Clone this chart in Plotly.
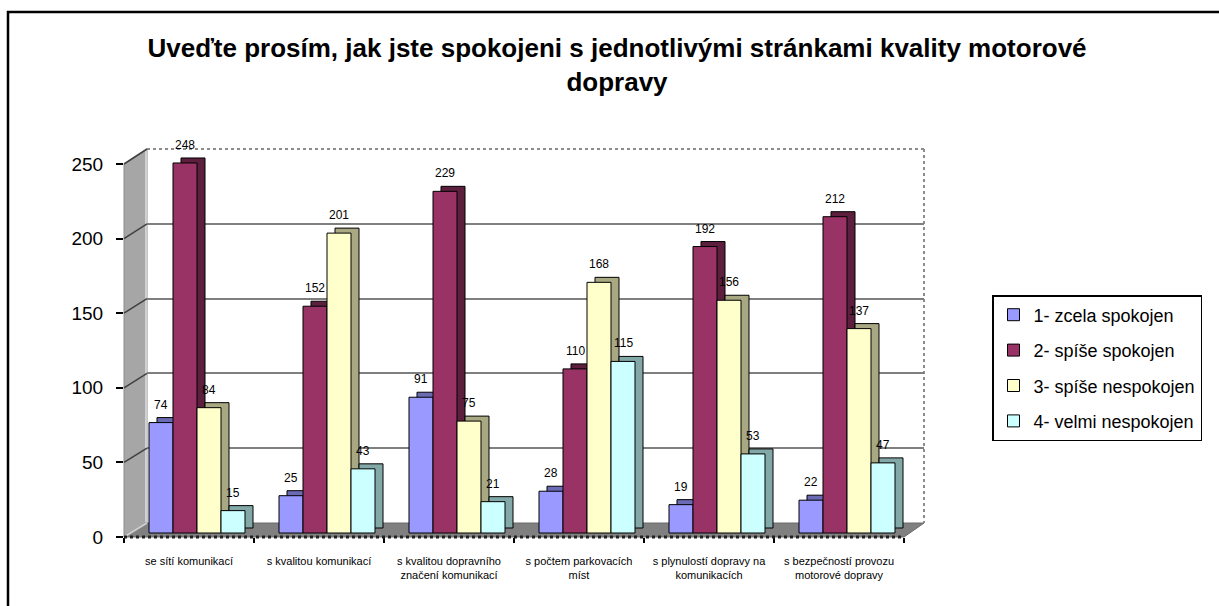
import plotly.graph_objects as go

categories = [
    "se sítí komunikací",
    "s kvalitou komunikací",
    "s kvalitou dopravního<br>značení komunikací",
    "s počtem parkovacích<br>míst",
    "s plynulostí dopravy na<br>komunikacích",
    "s bezpečností provozu<br>motorové dopravy",
]
series_names = ["1- zcela spokojen", "2- spíše spokojen", "3- spíše nespokojen", "4- velmi nespokojen"]
zcela_spokojen = [74, 25, 91, 28, 19, 22]
spise_spokojen = [248, 152, 229, 110, 192, 212]
spise_nespokojen = [84, 201, 75, 168, 156, 137]
velmi_nespokojen = [15, 43, 21, 115, 53, 47]
y_ticks = [0, 50, 100, 150, 200, 250]

series_values = [zcela_spokojen, spise_spokojen, spise_nespokojen, velmi_nespokojen]
front_colors = ["#9999FF", "#993366", "#FFFFCC", "#CCFFFF"]
side_colors = ["#6B6BB5", "#5C1F3D", "#A8A882", "#83A8A8"]

# ---- layout geometry (pixels) ----
W, H = 1219, 606
PL, PR, PT, PB = 124, 924, 149, 537
CAT_PX = 130.0
FRONT_PPU = 373 / 250.0   # front axis px per unit
BACK_PPU = 374 / 250.0    # back wall px per unit
DEPTH_X, DEPTH_Y = 23, 14  # wall depth
BAR_W = 24
BAR_LEFT0 = -40
SIDE_X, SIDE_Y = 8, 5
FONT = "Liberation Sans, Arial, sans-serif"


def px(x):
    return (x - PL) / (PR - PL)


def py(y):
    return (PB - y) / (PB - PT)


fig = go.Figure()

# 3D side/top faces (drawn first, behind the front faces)
for k, (name, vals) in enumerate(zip(series_names, series_values)):
    fig.add_trace(go.Bar(
        x=categories, y=vals,
        base=[SIDE_Y / FRONT_PPU] * len(vals),
        width=BAR_W / CAT_PX,
        offset=(BAR_LEFT0 + k * BAR_W + SIDE_X) / CAT_PX,
        marker=dict(color=side_colors[k], line=dict(color="black", width=1)),
        showlegend=False, hoverinfo="skip", yaxis="y",
    ))

# front faces
for k, (name, vals) in enumerate(zip(series_names, series_values)):
    fig.add_trace(go.Bar(
        x=categories, y=vals, name=name,
        width=BAR_W / CAT_PX,
        offset=(BAR_LEFT0 + k * BAR_W) / CAT_PX,
        marker=dict(color=front_colors[k], line=dict(color="black", width=1)),
        legendgroup=name, yaxis="y",
    ))

# helpers so the overlay axes are drawn
fig.add_trace(go.Scatter(x=[categories[0]], y=[0], yaxis="y2", mode="markers",
                         marker=dict(opacity=0), showlegend=False, hoverinfo="skip"))
fig.add_trace(go.Scatter(x=[categories[0]], y=[0], yaxis="y3", mode="markers",
                         marker=dict(opacity=0), showlegend=False, hoverinfo="skip"))

# data labels
annotations = []
for k, vals in enumerate(series_values):
    for i, v in enumerate(vals):
        annotations.append(dict(
            x=i + (BAR_LEFT0 + k * BAR_W + BAR_W / 2) / CAT_PX, y=v,
            xref="x", yref="y", text=str(v), showarrow=False, yshift=18,
            font=dict(size=12, color="black", family=FONT),
        ))

shapes = []
# outer border
shapes.append(dict(type="rect", xref="paper", yref="paper",
                   x0=px(8), x1=px(1250), y0=py(12), y1=py(640),
                   line=dict(color="black", width=2.5), fillcolor="rgba(0,0,0,0)", layer="below"))
# floor
shapes.append(dict(type="path", xref="paper", yref="paper",
                   path=f"M {px(PL)},{py(PB)} L {px(PL+DEPTH_X)},{py(PB-DEPTH_Y)} L {px(PR)},{py(PB-DEPTH_Y)} "
                        f"L {px(PL+6*CAT_PX)},{py(PB)} Z",
                   fillcolor="#808080", line=dict(color="#6a6a6a", width=1), layer="below"))
# back wall top and right dotted edges
shapes.append(dict(type="line", xref="paper", yref="paper",
                   x0=px(PL+DEPTH_X), x1=px(PR), y0=py(PT), y1=py(PT),
                   line=dict(color="#8c8c8c", width=2, dash="dot"), layer="below"))
shapes.append(dict(type="line", xref="paper", yref="paper",
                   x0=px(PR), x1=px(PR), y0=py(PT), y1=py(PB-DEPTH_Y),
                   line=dict(color="#8c8c8c", width=2, dash="dot"), layer="below"))
# left wall
shapes.append(dict(type="path", xref="paper", yref="paper",
                   path=f"M {px(PL)},{py(PB)} L {px(PL+DEPTH_X)},{py(PB-DEPTH_Y)} "
                        f"L {px(PL+DEPTH_X)},{py(PT)} L {px(PL)},{py(PB-250*FRONT_PPU)} Z",
                   fillcolor="#a6a6a6", line=dict(color="#8c8c8c", width=1), layer="above"))
shapes.append(dict(type="line", xref="paper", yref="paper",
                   x0=px(PL+DEPTH_X-1), x1=px(PL+DEPTH_X-1), y0=py(PT+1), y1=py(PB-DEPTH_Y-1),
                   line=dict(color="#e0e0e0", width=1.5), layer="above"))
for v in y_ticks:
    shapes.append(dict(type="line", xref="paper", yref="paper",
                       x0=px(PL), y0=py(PB - v * FRONT_PPU),
                       x1=px(PL + DEPTH_X), y1=py(PB - DEPTH_Y - v * BACK_PPU),
                       line=dict(color="#d0d0d0" if v == 0 else "#404040", width=1.5), layer="above"))
# dotted front x axis
shapes.append(dict(type="line", xref="x", yref="paper", x0=-0.5, x1=5.5, y0=0, y1=0,
                   line=dict(color="#222222", width=3, dash="dot"), layer="above"))

fig.update_layout(
    width=W, height=H,
    margin=dict(l=PL, r=W - PR, t=PT, b=H - PB, pad=0),
    paper_bgcolor="white", plot_bgcolor="white",
    barmode="overlay",
    font=dict(family=FONT, color="black"),
    title=dict(
        text="<b>Uveďte prosím, jak jste spokojeni s jednotlivými stránkami kvality motorové<br>dopravy</b>",
        x=617 / W, xanchor="center", xref="container",
        y=1 - 57 / H, yanchor="top", yref="container",
        font=dict(size=26, family=FONT, color="black"),
    ),
    xaxis=dict(
        type="category", range=[-0.5, -0.5 + (PR - PL) / CAT_PX],
        showgrid=False, zeroline=False, showline=False,
        ticks="outside", tickson="boundaries", ticklen=5, tickwidth=2, tickcolor="black",
        tickfont=dict(size=11, family=FONT, color="black"),
        ticklabelstandoff=16, automargin=False,
    ),
    yaxis=dict(
        range=[-4 / FRONT_PPU, (PB - 4 - PT) / FRONT_PPU],
        showgrid=False, zeroline=False, showticklabels=False, ticks="", showline=False,
        automargin=False,
    ),
    yaxis2=dict(
        overlaying="y", anchor="x", side="left",
        range=[-DEPTH_Y / BACK_PPU, 250],
        tickvals=[50, 100, 150, 200], showgrid=True, gridcolor="#7f7f7f", gridwidth=2,
        zeroline=False, showticklabels=False, ticks="", showline=False, automargin=False,
    ),
    yaxis3=dict(
        overlaying="y", anchor="x", side="left",
        range=[0, (PB - PT) / FRONT_PPU],
        tickvals=y_ticks, showgrid=False, zeroline=False, showline=False,
        ticks="outside", ticklen=7, tickwidth=2, tickcolor="black",
        tickfont=dict(size=19, family=FONT, color="black"),
        ticklabelstandoff=9, automargin=False,
    ),
    legend=dict(
        x=px(992), y=py(295), xanchor="left", yanchor="top",
        bordercolor="black", borderwidth=1.5, bgcolor="white",
        font=dict(size=18, family=FONT, color="black"),
        traceorder="grouped", tracegroupgap=9, itemwidth=30,
    ),
    annotations=annotations,
    shapes=shapes,
    showlegend=True,
)

fig.write_html("out.html", config={"displayModeBar": False},
               post_script="document.body.style.margin='0px';")
